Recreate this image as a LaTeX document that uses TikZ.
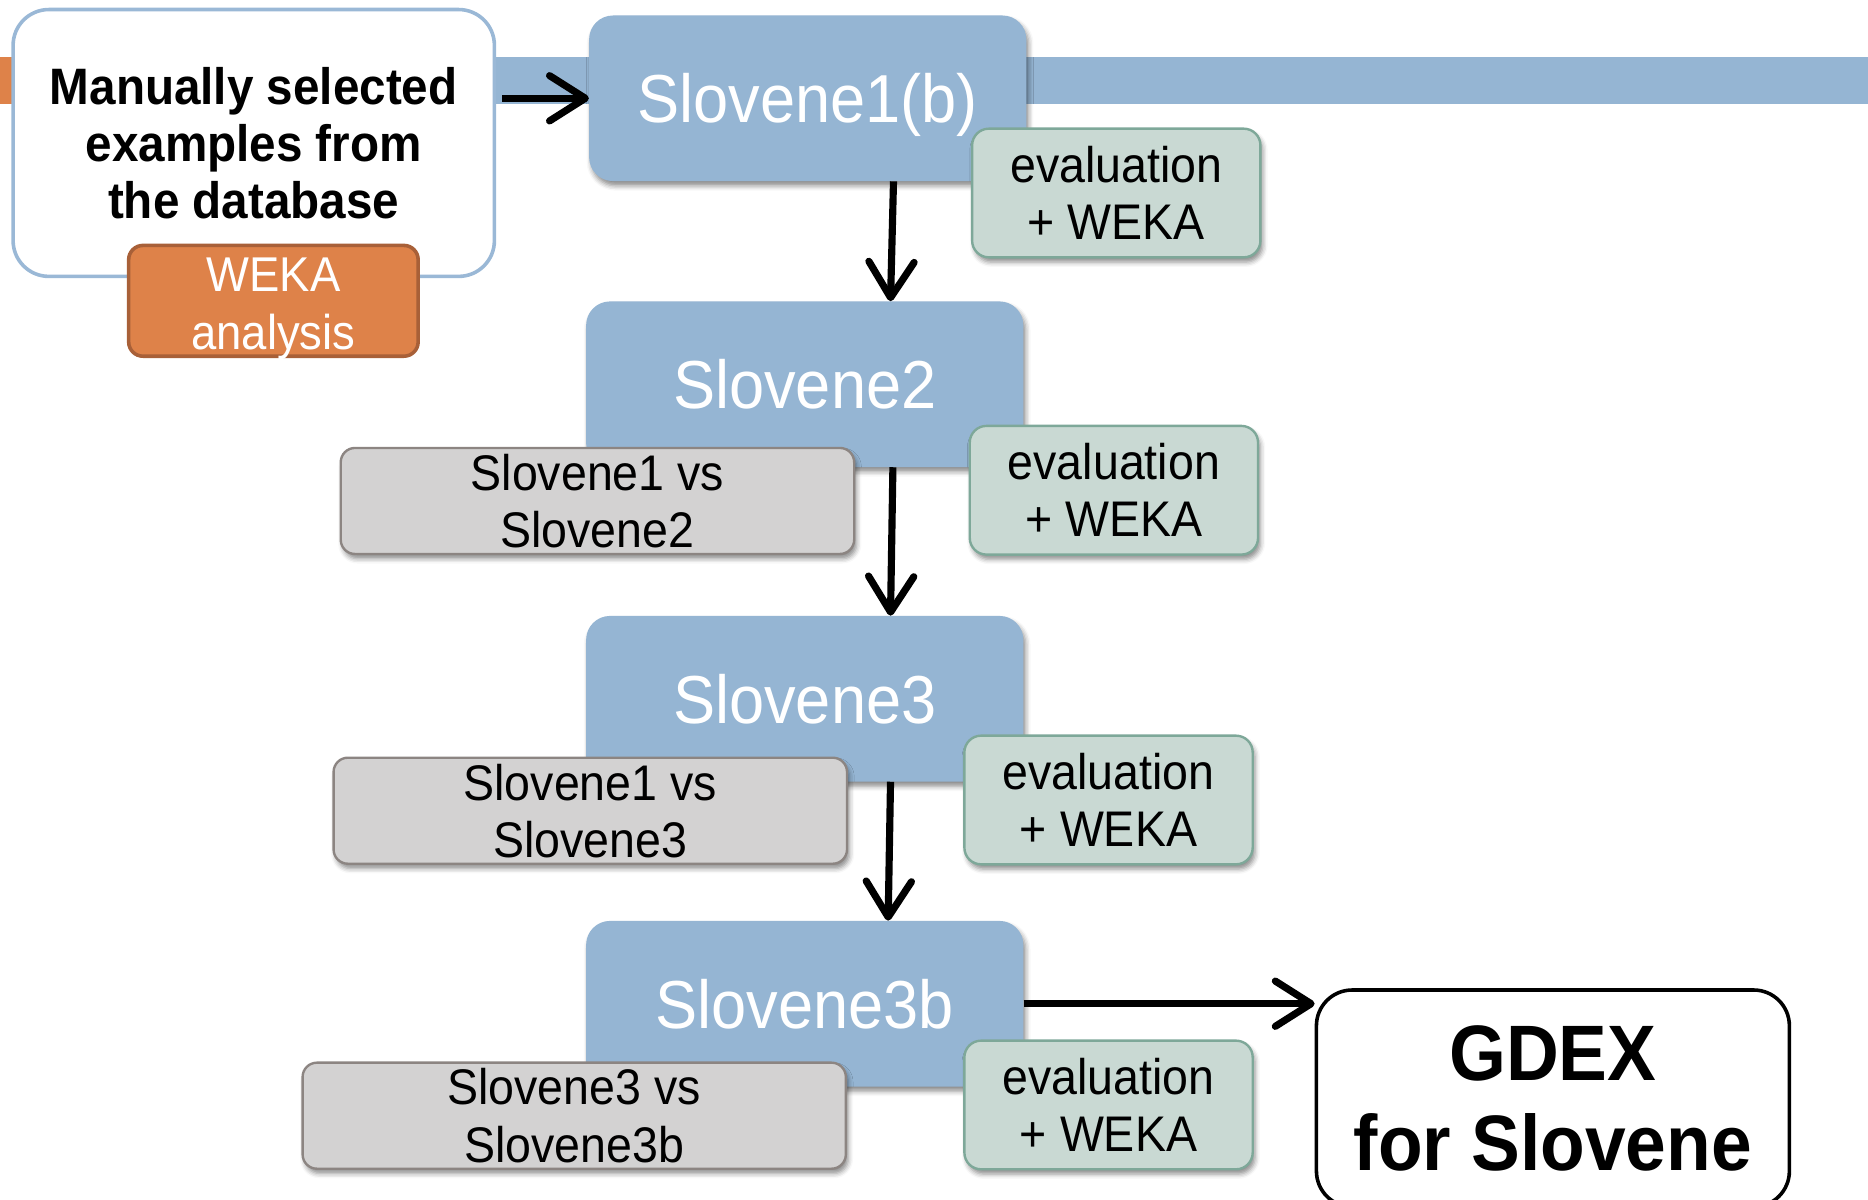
\documentclass[tikz,border=0pt]{standalone}
\usepackage{fontspec}
\setmainfont{Liberation Sans}[FakeStretch=0.93]
\usetikzlibrary{arrows.meta,shadows.blur}
\definecolor{slideblue}{RGB}{149,181,211}
\definecolor{frameblue}{RGB}{154,184,214}
\definecolor{wekaorange}{RGB}{222,130,73}
\definecolor{wekaedge}{RGB}{168,96,56}
\definecolor{evalfill}{RGB}{201,217,211}
\definecolor{evaledge}{RGB}{126,168,153}
\definecolor{cmpfill}{RGB}{211,210,210}
\definecolor{cmpedge}{RGB}{140,133,130}

\begin{document}
\begin{tikzpicture}[x=1pt, y=-1pt,
		softshadow/.style={blur shadow={shadow xshift=2pt, shadow yshift=-4pt, shadow blur radius=4pt, shadow opacity=45}},
		stage/.style={shape=rectangle, rounded corners=20pt, fill=slideblue, text=white, inner sep=0pt, minimum width=367pt, minimum height=139pt, text height=41pt, text depth=0pt, font=\fontsize{57}{64}\selectfont, softshadow},
		evalbox/.style={shape=rectangle, rounded corners=14pt, draw=evaledge, line width=2pt, fill=evalfill, align=center, inner sep=0pt, minimum width=242pt, minimum height=108pt, font=\fontsize{42}{48}\selectfont, softshadow},
		cmpbox/.style={shape=rectangle, rounded corners=12pt, draw=cmpedge, line width=2pt, fill=cmpfill, align=center, inner sep=0pt, minimum height=89pt, font=\fontsize{42}{48}\selectfont, softshadow},
		flow/.style={line width=6pt, -{Straight Barb[length=30pt, width=38pt, round]}}]
			\useasboundingbox (0,0) rectangle (1568,1007);
			\clip (0,0) rectangle (1568,1007);
			% slide bars
			\fill[wekaorange] (0,48) rectangle (10,87);
			\fill[slideblue] (400,48) rectangle (1568,87);
			% start
			\node (manual) at (213,120) [shape=rectangle, rounded corners=30pt, draw=frameblue, line width=3pt, fill=white, align=center, inner sep=0pt, minimum width=404pt, minimum height=224pt, font=\bfseries\fontsize{43}{48}\selectfont] {Manually selected\\examples from\\the database};
			\node (weka) at (229.5,252.5) [shape=rectangle, rounded corners=12pt, draw=wekaedge, line width=3pt, fill=wekaorange, text=white, align=center, inner sep=0pt, minimum width=243pt, minimum height=93pt, font=\fontsize{41}{48}\selectfont] {\rule{0pt}{33pt}WEKA\\\smash{analysis}};
			% stages
			\node (slovene1) at (678,82.5) [stage] {Slovene1(b)};
			\node (slovene2) at (675.5,322.5) [stage] {Slovene2};
			\node (slovene3) at (675.5,586.5) [stage] {Slovene3};
			\node (slovene3b) at (675.5,842.5) [stage] {Slovene3b};
			% comparisons
			\node (cmp2) at (501.5,420.5) [cmpbox, minimum width=431pt] {Slovene1 vs\\Slovene2};
			\node (cmp3) at (495.5,680.5) [cmpbox, minimum width=431pt] {Slovene1 vs\\Slovene3};
			\node (cmp3b) at (482,936.5) [cmpbox, minimum width=456pt] {Slovene3 vs\\Slovene3b};
			% evaluations
			\node (eval1) at (937,162) [evalbox] {evaluation\\+ WEKA};
			\node (eval2) at (935,411.5) [evalbox] {evaluation\\+ WEKA};
			\node (eval3) at (930.5,671.5) [evalbox] {evaluation\\+ WEKA};
			\node (eval4) at (930.5,927.5) [evalbox] {evaluation\\+ WEKA};
			% result
			\node (gdex) at (1303.5,922) [shape=rectangle, rounded corners=30pt, draw=black, line width=3pt, fill=white, align=center, inner sep=0pt, minimum width=397pt, minimum height=182pt, font=\bfseries\fontsize{66}{76}\selectfont] {GDEX\\for Slovene};
			% flow
			\draw[flow] ([xshift=5pt]manual.east |- slovene1.west) -- (slovene1.west);
			\draw[flow] ([xshift=72pt]slovene1.south) -- ([xshift=72pt]slovene2.north);
			\draw[flow] ([xshift=74pt]slovene2.south) -- ([xshift=72pt]slovene3.north);
			\draw[flow] ([xshift=72pt]slovene3.south) -- ([xshift=70pt]slovene3b.north);
			\draw[flow] (slovene3b.east) -- (gdex.west |- slovene3b.east);
		\end{tikzpicture}
\end{document}
